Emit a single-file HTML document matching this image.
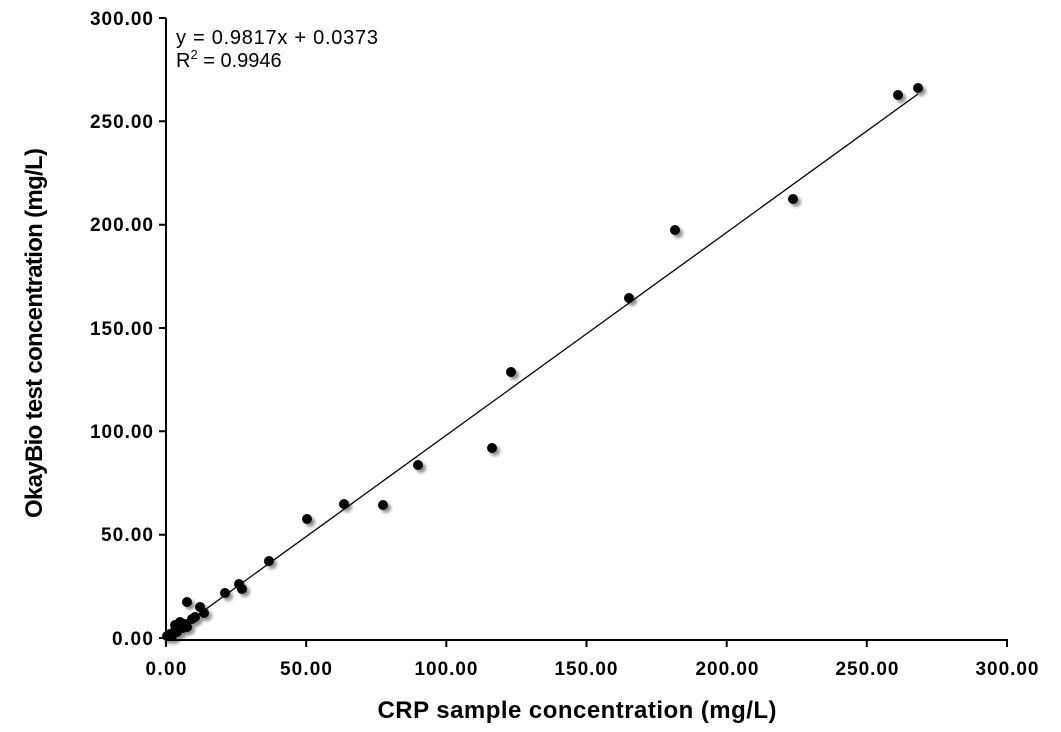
<!DOCTYPE html>
<html><head><style>body{margin:0;background:#fff}</style></head><body>
<svg width="1061" height="727" xmlns="http://www.w3.org/2000/svg" font-family="Liberation Sans, sans-serif">
<defs><filter id="s" x="-1" y="-1" width="3" height="3"><feGaussianBlur in="SourceAlpha" stdDeviation="1.6"/><feOffset dx="3" dy="3" result="b"/><feComponentTransfer><feFuncA type="linear" slope="0.45"/></feComponentTransfer><feMerge><feMergeNode/><feMergeNode in="SourceGraphic"/></feMerge></filter></defs>
<g stroke="#000" stroke-width="2" fill="none">
<path d="M166 18V640H1008"/>
<path d="M159 18H166M159 121.3H166M159 224.7H166M159 328H166M159 431.3H166M159 534.7H166M159 638H166"/>
<path d="M166 640V647M306.2 640V647M446.3 640V647M586.5 640V647M726.7 640V647M866.8 640V647M1007 640V647"/>
</g>
<line x1="166" y1="638" x2="918" y2="94" stroke="#000" stroke-width="1.3"/>
<g fill="#000" filter="url(#s)">
<circle cx="918" cy="88" r="5"/><circle cx="898" cy="95" r="5"/><circle cx="793" cy="199" r="5"/><circle cx="675" cy="230" r="5"/><circle cx="629" cy="298" r="5"/><circle cx="511" cy="372" r="5"/><circle cx="492" cy="448" r="5"/><circle cx="418" cy="465" r="5"/><circle cx="383" cy="505" r="5"/><circle cx="344" cy="504" r="5"/><circle cx="307" cy="519" r="5"/><circle cx="269" cy="561" r="5"/><circle cx="242" cy="589" r="5"/><circle cx="239" cy="584" r="5"/><circle cx="225" cy="593" r="5"/><circle cx="204" cy="613" r="5"/><circle cx="200" cy="607" r="5"/><circle cx="187" cy="602" r="5"/><circle cx="192" cy="619" r="5"/><circle cx="187" cy="627" r="5"/><circle cx="180" cy="622" r="5"/><circle cx="183" cy="628" r="5"/><circle cx="175" cy="625" r="5"/><circle cx="174" cy="632" r="5"/><circle cx="170" cy="634" r="5"/><circle cx="167" cy="636" r="5"/><circle cx="172" cy="636" r="5"/><circle cx="177" cy="632" r="5"/><circle cx="185" cy="624" r="5"/><circle cx="195" cy="617" r="5"/>
</g>
<g font-size="19" font-weight="bold" text-anchor="end" lengthAdjust="spacingAndGlyphs">
<text x="153" y="25" textLength="63">300.00</text><text x="153" y="128" textLength="63">250.00</text><text x="153" y="231" textLength="63">200.00</text><text x="153" y="335" textLength="63">150.00</text><text x="153" y="438" textLength="63">100.00</text><text x="153" y="541" textLength="52">50.00</text><text x="153" y="645" textLength="41">0.00</text>
</g>
<g font-size="19" font-weight="bold" text-anchor="middle">
<text x="166" y="675" textLength="41">0.00</text><text x="306" y="675" textLength="52">50.00</text><text x="446" y="675" textLength="63">100.00</text><text x="586" y="675" textLength="63">150.00</text><text x="727" y="675" textLength="63">200.00</text><text x="867" y="675" textLength="63">250.00</text><text x="1007" y="675" textLength="63">300.00</text>
</g>
<text x="577" y="718" font-size="24" font-weight="bold" text-anchor="middle" textLength="399">CRP sample concentration (mg/L)</text>
<text transform="translate(42 333) rotate(-90)" font-size="24" font-weight="bold" text-anchor="middle" textLength="370">OkayBio test concentration (mg/L)</text>
<text x="176" y="44" font-size="20" textLength="202">y = 0.9817x + 0.0373</text>
<text x="176" y="67" font-size="20">R<tspan font-size="13" dy="-8">2</tspan><tspan dy="8"> = 0.9946</tspan></text>
</svg>
</body></html>
